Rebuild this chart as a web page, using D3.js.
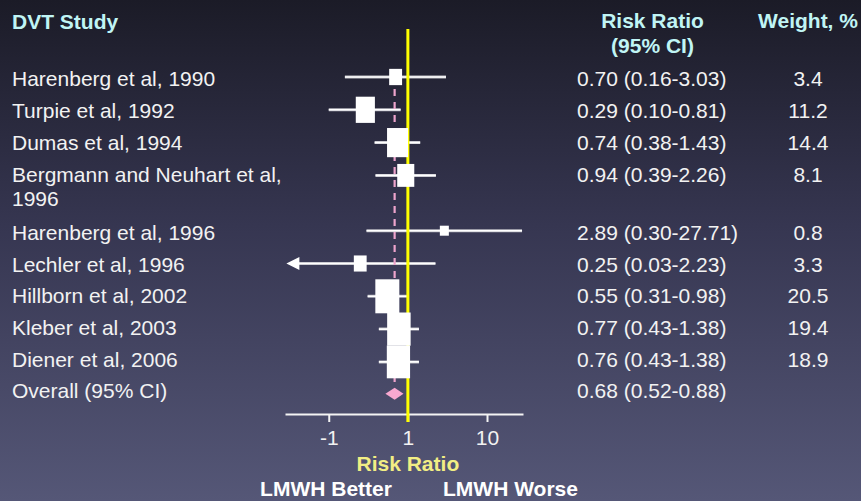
<!DOCTYPE html>
<html>
<head>
<meta charset="utf-8">
<script src="https://cdn.jsdelivr.net/npm/d3@7"></script>
<style>
  html, body { margin: 0; padding: 0; background: #1b1b27; }
  svg { display: block; font-family: "Liberation Sans", Arial, sans-serif; }
</style>
</head>
<body>
<svg id="chart" width="861" height="501"></svg>
<script>
// Study-level results (risk ratio with 95% CI, meta-analysis weight)
const studies = [
  "Harenberg et al, 1990",
  "Turpie et al, 1992",
  "Dumas et al, 1994",
  "Bergmann and Neuhart et al, 1996",
  "Harenberg et al, 1996",
  "Lechler et al, 1996",
  "Hillborn et al, 2002",
  "Kleber et al, 2003",
  "Diener et al, 2006"
];
const riskRatio = [0.70, 0.29, 0.74, 0.94, 2.89, 0.25, 0.55, 0.77, 0.76];
const ciLower   = [0.16, 0.10, 0.38, 0.39, 0.30, 0.03, 0.31, 0.43, 0.43];
const ciUpper   = [3.03, 0.81, 1.43, 2.26, 27.71, 2.23, 0.98, 1.38, 1.38];
const weights   = [3.4, 11.2, 14.4, 8.1, 0.8, 3.3, 20.5, 19.4, 18.9];

// Pooled estimate
const overallLabel = "Overall (95% CI)";
const overallRR = 0.68;
const overallLower = 0.52;
const overallUpper = 0.88;

// Axis ticks
const tickValues = [0.1, 1, 10];
const tickLabels = ["-1", "1", "10"];

const fmt = d3.format(".2f");

const svg = d3.select("#chart");
const W = 861, H = 501;

// Background gradient
const defs = svg.append("defs");
const grad = defs.append("linearGradient")
  .attr("id", "bg").attr("x1", 0).attr("y1", 0).attr("x2", 0).attr("y2", 1);
grad.append("stop").attr("offset", "0%").attr("stop-color", "#1b1b27");
grad.append("stop").attr("offset", "45%").attr("stop-color", "#363651");
grad.append("stop").attr("offset", "100%").attr("stop-color", "#555777");
svg.append("rect").attr("width", W).attr("height", H).attr("fill", "url(#bg)");

// Scales
const x = d3.scaleLog().domain([0.028, 28.5]).range([285, 523]);
const boxW = d3.scaleSqrt().domain([0.8, 20.5]).range([9, 24]);
const boxH = d3.scaleSqrt().domain([0.8, 20.5]).range([10, 34]);

const FONT = 21;
const labelMax = 290;

// Word-wrap labels to fit the label column
const measurer = svg.append("text").attr("font-size", FONT).attr("visibility", "hidden");
function wrap(str) {
  const words = str.split(" ");
  const lines = [];
  let cur = "";
  for (const w of words) {
    const test = cur ? cur + " " + w : w;
    measurer.text(test);
    if (cur && measurer.node().getComputedTextLength() > labelMax) {
      lines.push(cur);
      cur = w;
    } else cur = test;
  }
  lines.push(cur);
  return lines;
}
const wrapped = studies.map(wrap);
measurer.remove();

// Row layout: plot centre and text baseline, with extra room for wrapped labels
const rows = [];
let extra = 0;
wrapped.forEach((lines, i) => {
  rows.push({
    i,
    lines,
    plotY: 77 + 32.8 * i + 22.5 * extra,
    textY: 86 + 31.9 * i + 26 * extra
  });
  extra += lines.length - 1;
});
const nOv = studies.length;
const overallPlotY = 77 + 32.8 * nOv + 22.5 * extra - 1;
const overallTextY = 86 + 31.9 * nOv + 26 * extra - 1;

// Column headers
const headCol = "#c0f5f5";
svg.append("text").attr("x", 12).attr("y", 29)
  .attr("font-size", FONT).attr("font-weight", "bold").attr("fill", headCol).text("DVT Study");
svg.append("text").attr("x", 652.5).attr("y", 28).attr("text-anchor", "middle")
  .attr("font-size", FONT).attr("font-weight", "bold").attr("fill", headCol).text("Risk Ratio");
svg.append("text").attr("x", 652.5).attr("y", 53).attr("text-anchor", "middle")
  .attr("font-size", FONT).attr("font-weight", "bold").attr("fill", headCol).text("(95% CI)");
svg.append("text").attr("x", 808).attr("y", 28).attr("text-anchor", "middle")
  .attr("font-size", FONT).attr("font-weight", "bold").attr("fill", headCol).text("Weight, %");

const textCol = "#f2f2f2";

// Study labels
const lab = svg.append("g").attr("font-size", FONT).attr("fill", textCol);
rows.forEach(r => {
  const t = lab.append("text").attr("x", 12).attr("y", r.textY);
  r.lines.forEach((ln, k) => {
    t.append("tspan").attr("x", 12).attr("y", r.textY + k * 24.5).text(ln);
  });
});
lab.append("text").attr("x", 12).attr("y", overallTextY).text(overallLabel);

// Estimate text and weights
const vals = svg.append("g").attr("font-size", FONT).attr("fill", textCol);
rows.forEach(r => {
  vals.append("text").attr("x", 577).attr("y", r.textY)
    .text(`${fmt(riskRatio[r.i])} (${fmt(ciLower[r.i])}-${fmt(ciUpper[r.i])})`);
  vals.append("text").attr("x", 808).attr("y", r.textY).attr("text-anchor", "middle")
    .text(d3.format(".1f")(weights[r.i]));
});
vals.append("text").attr("x", 577).attr("y", overallTextY)
  .text(`${fmt(overallRR)} (${fmt(overallLower)}-${fmt(overallUpper)})`);

// Axis
const axisY = 414;
const axisG = svg.append("g").attr("transform", `translate(0,${axisY})`)
  .call(d3.axisBottom(x).tickValues(tickValues)
    .tickFormat((d, i) => tickLabels[i]).tickSize(8).tickSizeOuter(0));
axisG.select(".domain").attr("stroke", "#f4f4f4").attr("stroke-width", 2);
axisG.selectAll(".tick line").attr("stroke", "#f4f4f4").attr("stroke-width", 2);
axisG.selectAll(".tick text").attr("fill", textCol).attr("font-size", FONT)
  .attr("font-family", "Liberation Sans, Arial, sans-serif")
  .attr("y", 31).attr("dy", 0);

// Confidence interval lines
const ci = svg.append("g");
rows.forEach(r => {
  const lo = ciLower[r.i], hi = ciUpper[r.i];
  const truncated = lo < 0.05;
  const xl = x(lo);
  ci.append("line")
    .attr("x1", truncated ? xl + 10 : xl).attr("x2", x(hi))
    .attr("y1", r.plotY).attr("y2", r.plotY)
    .attr("stroke", "#bdbdc4").attr("stroke-width", 3);
  ci.append("line")
    .attr("x1", truncated ? xl + 10 : xl).attr("x2", x(hi))
    .attr("y1", r.plotY).attr("y2", r.plotY)
    .attr("stroke", "#ffffff").attr("stroke-width", 1.6);
  if (truncated) {
    ci.append("path")
      .attr("d", `M${xl - 1},${r.plotY} L${xl + 12},${r.plotY - 6.5} L${xl + 12},${r.plotY + 6.5} Z`)
      .attr("fill", "#ffffff");
  }
});

// Line of no effect
svg.append("line")
  .attr("x1", x(1)).attr("x2", x(1)).attr("y1", 29).attr("y2", axisY + 8)
  .attr("stroke", "#ffff00").attr("stroke-width", 3);

// Pooled estimate reference line
svg.append("line")
  .attr("x1", x(overallRR)).attr("x2", x(overallRR))
  .attr("y1", 89).attr("y2", overallPlotY - 6)
  .attr("stroke", "#eea4cc").attr("stroke-width", 2.2)
  .attr("stroke-dasharray", "7,6");

// Weighted point estimates
svg.append("g").selectAll("rect").data(rows).join("rect")
  .attr("x", d => x(riskRatio[d.i]) - boxW(weights[d.i]) / 2)
  .attr("y", d => d.plotY - boxH(weights[d.i]) / 2)
  .attr("width", d => boxW(weights[d.i]))
  .attr("height", d => boxH(weights[d.i]))
  .attr("fill", "#ffffff");

// Pooled diamond
const dh = 6;
svg.append("path")
  .attr("d", `M${x(overallLower)},${overallPlotY} L${x(overallRR)},${overallPlotY - dh} L${x(overallUpper)},${overallPlotY} L${x(overallRR)},${overallPlotY + dh} Z`)
  .attr("fill", "#f8a8d0");

// Axis title and direction labels
svg.append("text").attr("x", x(1)).attr("y", 471).attr("text-anchor", "middle")
  .attr("font-size", FONT).attr("font-weight", "bold").attr("fill", "#f2ee84").text("Risk Ratio");
svg.append("text").attr("x", 326).attr("y", 496).attr("text-anchor", "middle")
  .attr("font-size", FONT).attr("font-weight", "bold").attr("fill", "#ffffff").text("LMWH Better");
svg.append("text").attr("x", 510.5).attr("y", 496).attr("text-anchor", "middle")
  .attr("font-size", FONT).attr("font-weight", "bold").attr("fill", "#ffffff").text("LMWH Worse");
</script>
</body>
</html>
